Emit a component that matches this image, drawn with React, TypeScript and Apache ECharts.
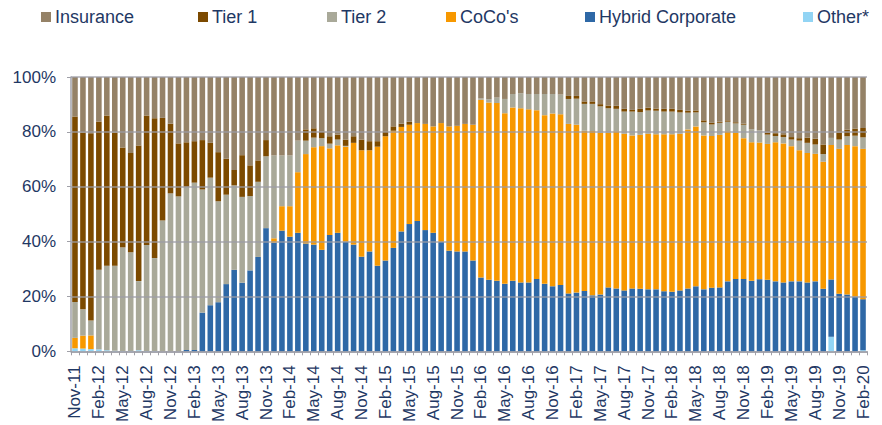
import React, { useEffect, useRef } from "react";
import * as echarts from "echarts";

const monthNames = ["Jan", "Feb", "Mar", "Apr", "May", "Jun", "Jul", "Aug", "Sep", "Oct", "Nov", "Dec"];
const categories: string[] = [];
for (let i = 0; i < 100; i++) {
  const m = (10 + i) % 12;
  const y = 11 + Math.floor((10 + i) / 12);
  categories.push(`${monthNames[m]}-${String(y).padStart(2, "0")}`);
}

const other = [
  1.1, 1.0, 0.8, 0.7, 0.4, 0.2, 0.1, 0.1, 0.4, 0.1,
  0.1, 0, 0, 0, 0, 0, 0, 0, 0, 0,
  0, 0, 0, 0, 0, 0, 0, 0, 0, 0,
  0, 0, 0, 0, 0, 0, 0, 0, 0, 0,
  0, 0, 0, 0, 0, 0, 0, 0, 0, 0,
  0, 0, 0, 0, 0, 0, 0, 0, 0, 0,
  0, 0, 0, 0, 0, 0, 0, 0, 0, 0,
  0, 0, 0, 0, 0, 0, 0, 0, 0, 0,
  0, 0, 0, 0, 0, 0, 0, 0, 0, 0,
  0, 0, 0, 0, 0, 5.3, 0, 0, 0, 0.4,
];

const hybrid = [
  0, 0, 0, 0, 0, 0, 0, 0, 0, 0,
  0, 0, 0, 0, 0.5, 0.5, 14.1, 16.8, 17.9, 24.5,
  29.7, 25.0, 29.5, 34.4, 44.9, 39.6, 44.0, 41.8, 43.2, 39.3,
  38.9, 37.0, 42.4, 43.2, 40.0, 38.9, 34.5, 36.4, 31.2, 33.1,
  37.7, 43.7, 46.4, 47.5, 44.2, 43.2, 39.9, 36.7, 36.4, 36.4,
  33.1, 26.9, 26.1, 25.7, 24.6, 25.7, 25.1, 25.1, 26.4, 24.6,
  23.7, 24.2, 21.1, 21.4, 22.0, 20.4, 20.7, 23.3, 22.9, 22.2,
  22.9, 22.8, 22.6, 22.6, 21.9, 21.7, 22.2, 22.9, 23.7, 22.6,
  23.2, 23.3, 25.5, 26.4, 26.4, 25.7, 26.3, 26.1, 25.5, 25.1,
  25.5, 25.5, 25.1, 25.5, 22.8, 20.9, 21.0, 20.7, 20.0, 18.6,
];

const coco = [
  3.8, 4.7, 5.0, 0, 0, 0, 0, 0, 0, 0,
  0, 0, 0, 0, 0, 0, 0, 0, 0, 0,
  0, 0, 0, 0, 0, 1.6, 8.9, 11.1, 22.1, 32.6,
  35.5, 37.8, 31.6, 31.9, 34.6, 37.1, 38.8, 36.9, 43.4, 45.3,
  42.7, 38.1, 36.2, 35.7, 38.7, 38.8, 43.3, 45.3, 45.8, 46.5,
  49.5, 64.8, 64.6, 64.8, 62.2, 63.2, 63.5, 63.1, 61.5, 61.5,
  63.0, 62.2, 61.8, 61.2, 58.4, 59.9, 58.9, 56.3, 57.3, 57.1,
  55.8, 56.1, 56.7, 56.5, 57.2, 57.4, 57.1, 58.0, 58.3, 56.1,
  55.3, 55.6, 54.7, 53.2, 51.3, 50.5, 49.8, 49.5, 50.7, 50.7,
  49.3, 47.8, 47.2, 46.5, 46.3, 49.0, 52.8, 54.5, 54.8, 54.8,
];

const tier2 = [
  13.1, 9.6, 5.4, 29.0, 30.8, 31.0, 37.8, 36.0, 25.2, 38.7,
  33.9, 47.7, 57.6, 56.5, 59.5, 61.0, 44.9, 46.5, 36.8, 32.6,
  30.8, 31.3, 27.1, 27.4, 26.2, 30.2, 18.5, 18.5, 11.5, 4.9,
  3.5, 2.9, 1.7, 2.1, 0.3, 0, 0, 0, 0, 0,
  0, 0, 0, 0, 0, 0, 0, 0, 0, 0,
  0, 0.5, 1.2, 2.0, 5.2, 4.9, 5.5, 5.6, 5.9, 7.7,
  7.1, 7.2, 9.1, 9.5, 9.8, 9.9, 9.7, 9.0, 8.2, 8.1,
  8.7, 8.3, 8.5, 8.6, 8.3, 8.3, 7.8, 6.1, 5.1, 4.8,
  4.2, 4.4, 3.5, 3.5, 4.9, 4.8, 4.5, 3.4, 2.3, 2.3,
  2.4, 3.5, 3.7, 3.4, 2.8, 2.6, 3.4, 3.2, 3.8, 4.2,
];

const tier1 = [
  67.6, 64.5, 68.3, 54.1, 54.8, 48.6, 36.4, 36.2, 49.4, 47.2,
  51.0, 37.4, 25.4, 19.3, 16.2, 15.1, 18.0, 12.7, 17.9, 13.1,
  5.6, 15.2, 11.2, 7.8, 5.9, 0, 0, 0, 0, 4.1,
  3.4, 2.4, 2.7, 1.8, 2.3, 2.4, 3.9, 3.3, 2.0, 1.8,
  1.6, 1.2, 1.1, 0, 0, 0, 0, 0, 0, 0,
  0, 0, 0, 0, 0, 0, 0, 0, 0, 0,
  0, 0, 1.1, 1.0, 0.9, 0.9, 0.8, 1.0, 1.1, 1.0,
  0.6, 1.2, 1.0, 0.8, 1.0, 1.0, 0.9, 0.7, 0.7, 0.7,
  0.6, 0.4, 0.5, 0.4, 0.4, 0, 0, 0.7, 1.0, 1.0,
  0.9, 0.9, 1.9, 2.1, 3.5, 0, 2.6, 2.4, 2.6, 3.4,
];

const insurance = [
  14.4, 20.2, 20.5, 16.2, 14.0, 20.2, 25.7, 27.7, 25.0, 14.0,
  15.0, 14.9, 17.0, 24.2, 23.8, 23.4, 23.0, 24.0, 27.4, 29.8,
  33.9, 28.5, 32.2, 30.4, 23.0, 28.6, 28.6, 28.6, 23.2, 19.1,
  18.7, 19.9, 21.6, 21.0, 22.8, 21.6, 22.8, 23.4, 23.4, 19.8,
  18.0, 17.0, 16.3, 16.8, 17.1, 18.0, 16.8, 18.0, 17.8, 17.1,
  17.4, 7.8, 8.1, 7.5, 8.0, 6.2, 5.9, 6.2, 6.2, 6.2,
  6.2, 6.4, 6.9, 6.9, 8.9, 8.9, 9.9, 10.4, 10.5, 11.6,
  12.0, 11.6, 11.2, 11.5, 11.6, 11.6, 12.0, 12.3, 12.2, 15.8,
  16.7, 16.3, 15.8, 16.5, 17.0, 19.0, 19.4, 20.3, 20.5, 20.9,
  21.9, 22.3, 22.1, 22.5, 24.6, 22.2, 20.2, 19.2, 18.8, 18.6,
];

const yTicks = [0, 20, 40, 60, 80, 100];

const seriesDefs = [
  { name: "Other*", data: other, color: "#92D4F4" },
  { name: "Hybrid Corporate", data: hybrid, color: "#2E68A6" },
  { name: "CoCo's", data: coco, color: "#F79800" },
  { name: "Tier 2", data: tier2, color: "#A9A999" },
  { name: "Tier 1", data: tier1, color: "#7C4A00" },
  { name: "Insurance", data: insurance, color: "#958267" },
];

const legendItems = [
  { name: "Insurance", left: 41 },
  { name: "Tier 1", left: 198 },
  { name: "Tier 2", left: 327 },
  { name: "CoCo's", left: 446 },
  { name: "Hybrid Corporate", left: 585 },
  { name: "Other*", left: 803 },
];

const FONT = "'Liberation Sans', Arial, sans-serif";
const TEXT = "#1F3864";

export default function App() {
  const ref = useRef<HTMLDivElement>(null);
  useEffect(() => {
    if (!ref.current) return;
    const chart = echarts.init(ref.current, undefined, { renderer: "svg" });
    chart.setOption({
      animation: false,
      backgroundColor: "#ffffff",
      legend: legendItems.map((l) => ({
        data: [l.name],
        left: l.left,
        top: 8,
        icon: "rect",
        itemWidth: 10,
        itemHeight: 10,
        itemGap: 0,
        padding: 0,
        selectedMode: false,
        textStyle: { fontSize: 18, color: TEXT, fontFamily: FONT, padding: [0, 0, 0, -1] },
      })),
      grid: { left: 71, right: 15, top: 77, bottom: 72, containLabel: false },
      xAxis: {
        type: "category",
        data: categories,
        axisLine: { show: true, lineStyle: { color: "#A0A0A8", width: 1.5 } },
        axisTick: { show: true, interval: 0, length: 4, lineStyle: { color: "#A0A0A8", width: 1 } },
        axisLabel: {
          interval: 2,
          rotate: 90,
          margin: 14,
          fontSize: 17,
          color: TEXT,
          fontFamily: FONT,
        },
      },
      yAxis: {
        type: "value",
        min: yTicks[0],
        max: yTicks[yTicks.length - 1],
        interval: 20,
        z: 3,
        axisLine: { show: true, lineStyle: { color: "#A0A0A8", width: 1.5 } },
        axisTick: { show: true, length: 4, lineStyle: { color: "#A0A0A8" } },
        splitLine: { show: true, lineStyle: { color: "#9C9CA6", width: 1.5, opacity: 0.85 } },
        axisLabel: {
          formatter: "{value}%",
          fontSize: 17,
          color: TEXT,
          fontFamily: FONT,
          margin: 15,
        },
      },
      series: seriesDefs.map((s) => ({
        name: s.name,
        type: "bar",
        stack: "total",
        data: s.data,
        barCategoryGap: "30%",
        itemStyle: { color: s.color },
        emphasis: { disabled: true },
      })),
    });
    return () => chart.dispose();
  }, []);
  return (
    <div
      ref={ref}
      style={{ position: "fixed", left: 0, top: 0, width: 882, height: 425 }}
    />
  );
}
